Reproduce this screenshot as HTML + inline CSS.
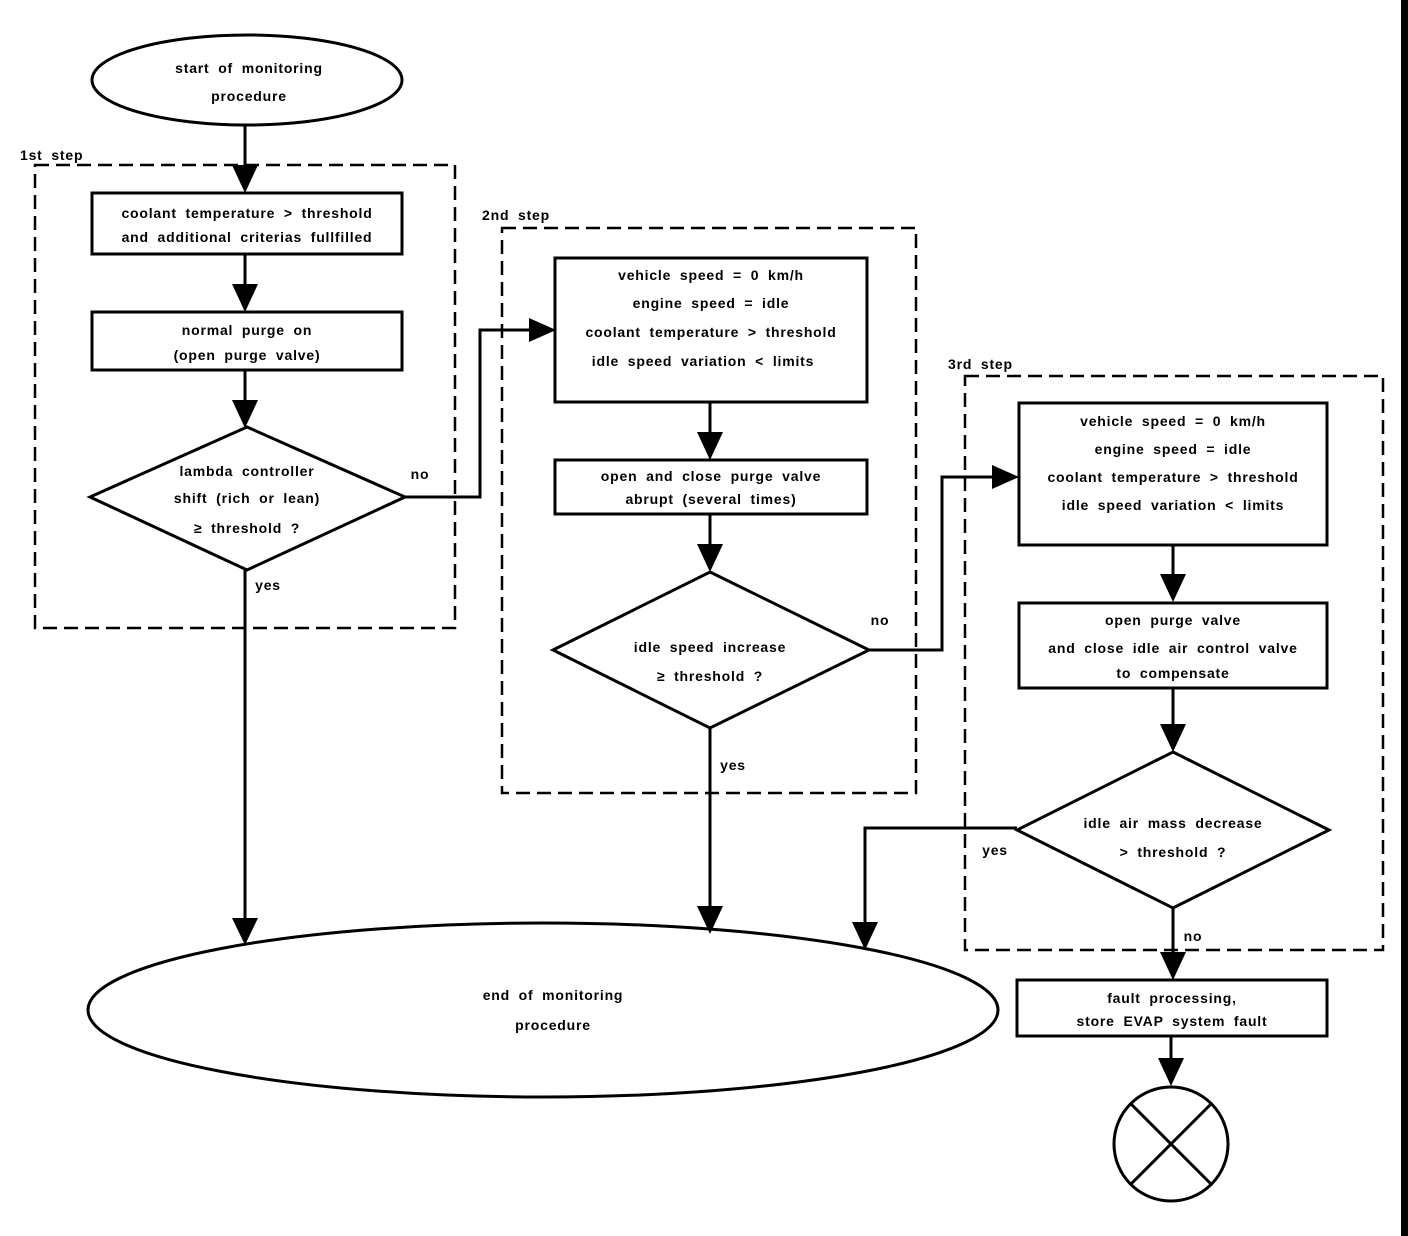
<!DOCTYPE html>
<html><head><style>
html,body{margin:0;padding:0;background:#fff;}
svg{display:block;}
text{font-family:"Liberation Sans",Arial,sans-serif;font-size:14px;font-weight:bold;fill:#000;text-anchor:middle;letter-spacing:0.8px;word-spacing:4px;}
.l{text-anchor:start;}
.s{fill:none;stroke:#000;stroke-width:3;}
.d{fill:none;stroke:#000;stroke-width:2.5;stroke-dasharray:14,7;}
</style></head><body>
<svg width="1408" height="1236" viewBox="0 0 1408 1236" xmlns="http://www.w3.org/2000/svg">
<rect x="1401" y="0" width="7" height="1236" fill="#000"/>
<g fill="#000">
<path d="M232,165 L258,165 L245,193z"/>
<path d="M232,284 L258,284 L245,312z"/>
<path d="M232,400 L258,400 L245,428z"/>
<path d="M232,918 L258,918 L245,945z"/>
<path d="M529,318 L529,342 L556,330z"/>
<path d="M697,432 L723,432 L710,460z"/>
<path d="M697,544 L723,544 L710,572z"/>
<path d="M697,906 L723,906 L710,934z"/>
<path d="M852,922 L878,922 L865,950z"/>
<path d="M992,465 L992,489 L1019,477z"/>
<path d="M1160,574 L1186,574 L1173,602z"/>
<path d="M1160,724 L1186,724 L1173,752z"/>
<path d="M1160,952 L1186,952 L1173,980z"/>
<path d="M1158,1058 L1184,1058 L1171,1086z"/>
</g>
<rect class="d" x="35" y="165" width="420" height="463"/>
<rect class="d" x="502" y="228" width="414" height="565"/>
<rect class="d" x="965" y="376" width="418" height="574"/>
<text class="l" x="20" y="160">1st step</text>
<text class="l" x="482" y="220">2nd step</text>
<text class="l" x="948" y="369">3rd step</text>
<ellipse class="s" cx="247" cy="80" rx="155" ry="45"/>
<text x="249" y="73">start of monitoring</text>
<text x="249" y="101">procedure</text>
<line class="s" x1="245" y1="125" x2="245" y2="168"/>
<rect class="s" x="92" y="193" width="310" height="61"/>
<text x="247" y="218">coolant temperature &gt; threshold</text>
<text x="247" y="242">and additional criterias fullfilled</text>
<line class="s" x1="245" y1="254" x2="245" y2="286"/>
<rect class="s" x="92" y="312" width="310" height="58"/>
<text x="247" y="335">normal purge on</text>
<text x="247" y="360">(open purge valve)</text>
<line class="s" x1="245" y1="370" x2="245" y2="402"/>
<path class="s" d="M247,427 L405,497 L247,570 L90,497z"/>
<text x="247" y="476">lambda controller</text>
<text x="247" y="503">shift (rich or lean)</text>
<text x="247" y="533">≥ threshold ?</text>
<text x="420" y="479">no</text>
<path class="s" d="M405,497 H480 V330 H532"/>
<text x="268" y="590">yes</text>
<line class="s" x1="245" y1="570" x2="245" y2="920"/>
<ellipse class="s" cx="543" cy="1010" rx="455" ry="87"/>
<text x="553" y="1000">end of monitoring</text>
<text x="553" y="1030">procedure</text>
<rect class="s" x="555" y="258" width="312" height="144"/>
<text x="711" y="280">vehicle speed = 0 km/h</text>
<text x="711" y="308">engine speed = idle</text>
<text x="711" y="337">coolant temperature &gt; threshold</text>
<text x="703" y="366">idle speed variation &lt; limits</text>
<line class="s" x1="710" y1="402" x2="710" y2="434"/>
<rect class="s" x="555" y="460" width="312" height="54"/>
<text x="711" y="481">open and close purge valve</text>
<text x="711" y="504">abrupt (several times)</text>
<line class="s" x1="710" y1="514" x2="710" y2="546"/>
<path class="s" d="M710,572 L869,650 L710,728 L553,650z"/>
<text x="710" y="652">idle speed increase</text>
<text x="710" y="681">≥ threshold ?</text>
<text x="880" y="625">no</text>
<path class="s" d="M869,650 H942 V477 H995"/>
<text x="733" y="770">yes</text>
<line class="s" x1="710" y1="728" x2="710" y2="908"/>
<rect class="s" x="1019" y="403" width="308" height="142"/>
<text x="1173" y="426">vehicle speed = 0 km/h</text>
<text x="1173" y="454">engine speed = idle</text>
<text x="1173" y="482">coolant temperature &gt; threshold</text>
<text x="1173" y="510">idle speed variation &lt; limits</text>
<line class="s" x1="1173" y1="545" x2="1173" y2="576"/>
<rect class="s" x="1019" y="603" width="308" height="85"/>
<text x="1173" y="625">open purge valve</text>
<text x="1173" y="653">and close idle air control valve</text>
<text x="1173" y="678">to compensate</text>
<line class="s" x1="1173" y1="688" x2="1173" y2="726"/>
<path class="s" d="M1173,752 L1329,830 L1173,908 L1017,830z"/>
<text x="1173" y="828">idle air mass decrease</text>
<text x="1173" y="857">&gt; threshold ?</text>
<text x="995" y="855">yes</text>
<path class="s" d="M1017,828 H865 V924"/>
<text x="1193" y="941">no</text>
<line class="s" x1="1173" y1="908" x2="1173" y2="954"/>
<rect class="s" x="1017" y="980" width="310" height="56"/>
<text x="1172" y="1003">fault processing,</text>
<text x="1172" y="1026">store EVAP system fault</text>
<line class="s" x1="1171" y1="1036" x2="1171" y2="1060"/>
<circle class="s" cx="1171" cy="1144" r="57"/>
<line class="s" x1="1131" y1="1104" x2="1211" y2="1184"/>
<line class="s" x1="1211" y1="1104" x2="1131" y2="1184"/>
</svg>
</body></html>
